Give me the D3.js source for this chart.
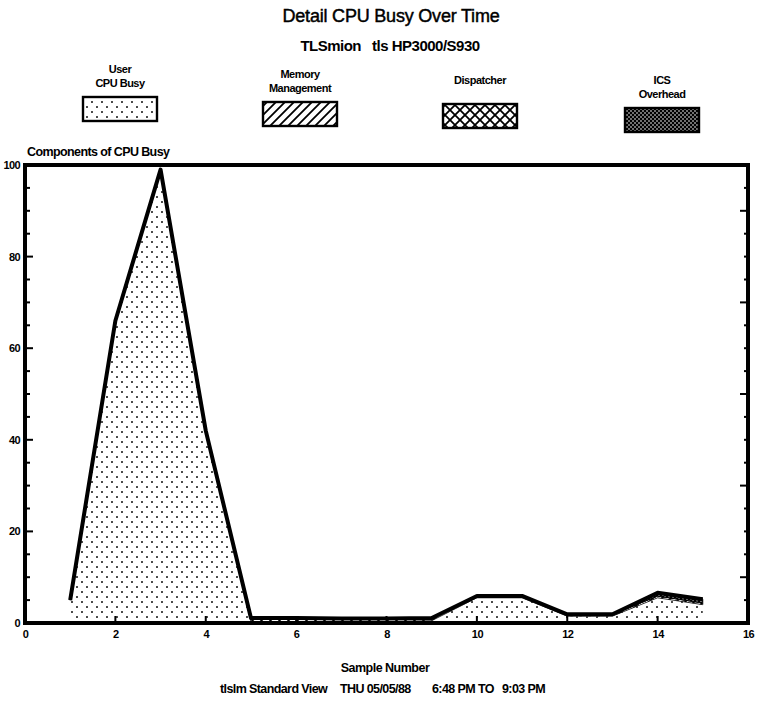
<!DOCTYPE html>
<html><head><meta charset="utf-8">
<script src="https://cdn.jsdelivr.net/npm/d3@7"></script>
<style>
body{margin:0;background:#fff;}
text{font-family:"Liberation Sans",Arial,sans-serif;font-weight:bold;fill:#000;}
</style></head>
<body><svg id="c" width="760" height="705"></svg>
<script>
const samples = [1,2,3,4,5,6,7,8,9,10,11,12,13,14,15];
const userCpu = [5,66,99,42,0.3,0.3,0.3,0.3,0.5,5.5,5.5,1.5,1.5,5.5,4];
const memoryMgmt = [0,0,0,0,0.8,0.8,0.7,0.7,0.6,0.4,0.4,0.4,0.4,0.4,0.4];
const dispatcher = [0,0,0,0,0,0,0,0,0,0,0,0,0,0,0];
const icsOverhead = [0,0,0,0,0,0,0,0,0,0,0,0,0,0.7,0.8];
const seriesNames = ["User\nCPU Busy","Memory\nManagement","Dispatcher","ICS\nOverhead"];
const xTicks = [0,2,4,6,8,10,12,14,16];
const yTicks = [0,20,40,60,80,100];

(function(){
const svg = d3.select("#c");
const defs = svg.append("defs");
const p0 = defs.append("pattern").attr("id","pDots").attr("patternUnits","userSpaceOnUse").attr("width",10).attr("height",10);
p0.append("circle").attr("cx",2).attr("cy",2).attr("r",0.95).attr("fill","#000");
p0.append("circle").attr("cx",7).attr("cy",7).attr("r",0.95).attr("fill","#000");
const p1 = defs.append("pattern").attr("id","pHatch").attr("patternUnits","userSpaceOnUse").attr("width",9).attr("height",9);
p1.append("path").attr("d","M-1,10 L10,-1 M-3,3 L3,-3 M6,12 L12,6").attr("stroke","#000").attr("stroke-width",1.8);
const p2 = defs.append("pattern").attr("id","pCross").attr("patternUnits","userSpaceOnUse").attr("width",10).attr("height",10);
p2.append("path").attr("d","M0,0 L10,10 M10,0 L0,10").attr("stroke","#000").attr("stroke-width",1.8);
const p3 = defs.append("pattern").attr("id","pDense").attr("patternUnits","userSpaceOnUse").attr("width",4).attr("height",4);
p3.append("rect").attr("width",4).attr("height",4).attr("fill","#000");
p3.append("circle").attr("cx",1).attr("cy",1).attr("r",0.8).attr("fill","#fff");
p3.append("circle").attr("cx",3).attr("cy",3).attr("r",0.8).attr("fill","#fff");
const fills = ["url(#pDots)","url(#pHatch)","url(#pCross)","url(#pDense)"];

svg.append("text").attr("x",391).attr("y",22).attr("text-anchor","middle").attr("font-size",18)
  .style("font-weight","normal").attr("stroke","#000").attr("stroke-width",0.45).style("letter-spacing","-0.2px").text("Detail CPU Busy Over Time");
svg.append("text").attr("x",390).attr("y",51).attr("text-anchor","middle").attr("font-size",15).attr("xml:space","preserve").style("letter-spacing","-0.5px").text("TLSmion   tls HP3000/S930");

const legX = [120,300,480,662];
const legBoxY = [97,102,104,108];
seriesNames.forEach((n,i)=>{
  const lines = n.split("\n");
  const g = svg.append("g");
  const baseY = lines.length===2 ? legBoxY[i]-24 : legBoxY[i]-20;
  lines.forEach((l,j)=>{
    g.append("text").attr("x",legX[i]).attr("y",baseY+j*14).attr("text-anchor","middle").attr("font-size",11).style("letter-spacing","-0.5px").text(l);
  });
  g.append("rect").attr("x",legX[i]-37).attr("y",legBoxY[i]).attr("width",74).attr("height",24)
    .attr("fill","#fff").attr("stroke","none");
  g.append("rect").attr("x",legX[i]-37).attr("y",legBoxY[i]).attr("width",74).attr("height",24)
    .attr("fill",fills[i]).attr("stroke","#000").attr("stroke-width",2.4);
});

const L=25,R=748,T=165,B=623;
const x = d3.scaleLinear().domain([0,16]).range([L,R]);
const y = d3.scaleLinear().domain([0,100]).range([B,T]);

const table = samples.map((s,i)=>({s, u:userCpu[i], m:memoryMgmt[i], d:dispatcher[i], c:icsOverhead[i]}));
const stack = d3.stack().keys(["u","m","d","c"])(table);
const area = d3.area().x(d=>x(d.data.s)).y0(d=>y(d[0])).y1(d=>y(d[1]));
stack.forEach((layer,i)=>{
  svg.append("path").datum(layer).attr("d",area).attr("fill",fills[i]).attr("stroke","#000").attr("stroke-width",i===0?0:0.8);
});
const topLayer = stack[stack.length-1];
svg.append("path").datum(topLayer).attr("fill","none").attr("stroke","#000").attr("stroke-width",4)
  .attr("stroke-linejoin","round")
  .attr("d",d3.line().x(d=>x(d.data.s)).y(d=>y(d[1])));

svg.append("rect").attr("x",L).attr("y",T).attr("width",R-L).attr("height",B-T).attr("fill","none").attr("stroke","#000").attr("stroke-width",4);

const yMinor = d3.range(5,100,5);
svg.append("g").selectAll("line").data(yMinor).join("line")
  .attr("x1",L).attr("x2",d=>L+(d%20===0?8:5)).attr("y1",d=>y(d)).attr("y2",d=>y(d)).attr("stroke","#000").attr("stroke-width",2);
svg.append("g").selectAll("line").data(yMinor).join("line")
  .attr("x1",R).attr("x2",d=>R-(d%10===0&&d%20!==0?8:4)).attr("y1",d=>y(d)).attr("y2",d=>y(d)).attr("stroke","#000").attr("stroke-width",2);
const yAxis = d3.axisLeft(y).tickValues(yTicks).tickSize(0).tickPadding(4);
const ya = svg.append("g").attr("transform",`translate(${L-1},0)`).call(yAxis);
ya.select(".domain").remove();
ya.selectAll("text").attr("font-size",11).style("font-family","'Liberation Sans',Arial,sans-serif").style("font-weight","bold").style("letter-spacing","-0.6px");

const xAxis = d3.axisBottom(x).tickValues(xTicks).tickSize(0).tickPadding(6);
const xa = svg.append("g").attr("transform",`translate(0,${B+1})`).call(xAxis);
xa.select(".domain").remove();
xa.selectAll("text").attr("font-size",11).style("font-family","'Liberation Sans',Arial,sans-serif").style("font-weight","bold").style("letter-spacing","-0.6px");
svg.append("g").selectAll("line").data(xTicks.filter(d=>d>0&&d<16)).join("line")
  .attr("x1",d=>x(d)).attr("x2",d=>x(d)).attr("y1",B).attr("y2",B-7).attr("stroke","#000").attr("stroke-width",2);

svg.append("text").attr("x",27).attr("y",156).attr("font-size",12.5).style("letter-spacing","-0.6px").text("Components of CPU Busy");
svg.append("text").attr("x",385).attr("y",672).attr("text-anchor","middle").attr("font-size",12.5).style("letter-spacing","-0.5px").text("Sample Number");
const foot = svg.append("g").attr("font-size",12.5).style("letter-spacing","-0.6px");
foot.append("text").attr("x",220).attr("y",693).text("tlslm Standard View");
foot.append("text").attr("x",340).attr("y",693).text("THU 05/05/88");
foot.append("text").attr("x",432).attr("y",693).text("6:48 PM TO");
foot.append("text").attr("x",502).attr("y",693).text("9:03 PM");
})();
</script></body></html>
